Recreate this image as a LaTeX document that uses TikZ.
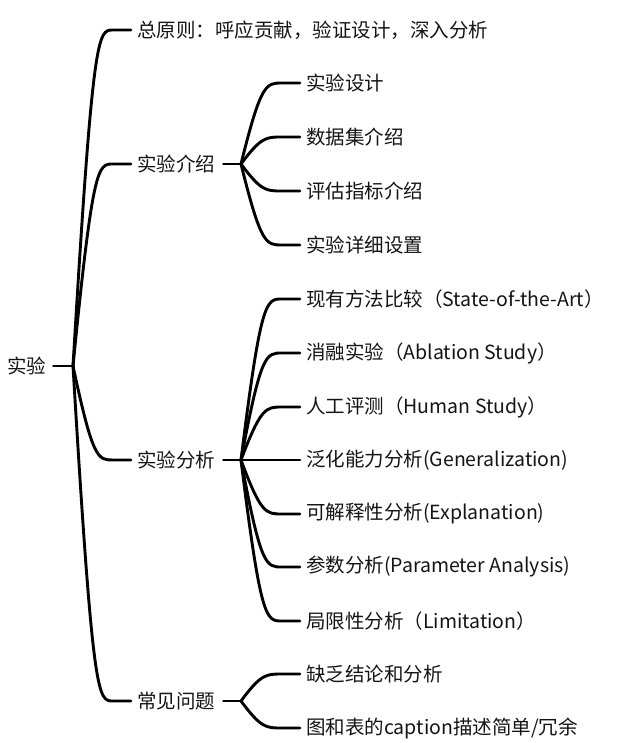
\documentclass[tikz,border=0pt]{standalone}
\usepackage{fontspec}
\setmainfont{Noto Sans CJK SC}
\usetikzlibrary{calc}
\newcommand\brc[2]{\draw[conn] (#1) .. controls ($(#1 |- #2.west)+(20,0)$) and ($(#1 |- #2.west)+(25,0)$) .. ($(#2.west)+(-24,0)$) -- ($(#2.west)+(-6,0)$);}
\begin{document}
\begin{tikzpicture}[x=1pt,y=1pt,
  conn/.style={draw=black,line width=2.9pt,line cap=round},
  lbl/.style={anchor=west,inner sep=0pt,text=black!92,font=\fontsize{19.5}{22}\selectfont}]
\useasboundingbox (0,0) rectangle (620,-743);
% root
\node[lbl] (root) at (7,-366) {实验};
\coordinate (r) at (73,-366);
\draw[conn] ($(root.east)+(7,0)$) -- (r);
% level 1
\node[lbl] (a1) at (137,-30) {总原则：呼应贡献，验证设计，深入分析};
\node[lbl] (a2) at (137,-164) {实验介绍};
\node[lbl] (a3) at (137,-460) {实验分析};
\node[lbl] (a4) at (137,-701) {常见问题};
\brc{r}{a1}\brc{r}{a2}\brc{r}{a3}\brc{r}{a4}
\coordinate (p2) at (241,-164);
\coordinate (p3) at (241,-460);
\coordinate (p4) at (241,-701);
\draw[conn] ($(a2.east)+(8,0)$) -- (p2);
\draw[conn] ($(a3.east)+(8,0)$) -- (p3);
\draw[conn] ($(a4.east)+(8,0)$) -- (p4);
% level 2: 实验介绍
\node[lbl] (b1) at (306,-83) {实验设计};
\node[lbl] (b2) at (306,-137) {数据集介绍};
\node[lbl] (b3) at (306,-191) {评估指标介绍};
\node[lbl] (b4) at (306,-245) {实验详细设置};
\brc{p2}{b1}\brc{p2}{b2}\brc{p2}{b3}\brc{p2}{b4}
% level 2: 实验分析
\node[lbl] (c1) at (306,-299) {现有方法比较（State-of-the-Art）};
\node[lbl] (c2) at (306,-353) {消融实验（Ablation Study）};
\node[lbl] (c3) at (306,-407) {人工评测（Human Study）};
\node[lbl] (c4) at (306,-460) {泛化能力分析(Generalization)};
\node[lbl] (c5) at (306,-514) {可解释性分析(Explanation)};
\node[lbl] (c6) at (306,-567) {参数分析(Parameter Analysis)};
\node[lbl] (c7) at (306,-621) {局限性分析（Limitation）};
\brc{p3}{c1}\brc{p3}{c2}\brc{p3}{c3}\brc{p3}{c4}\brc{p3}{c5}\brc{p3}{c6}\brc{p3}{c7}
% level 2: 常见问题
\node[lbl] (d1) at (306,-674) {缺乏结论和分析};
\node[lbl] (d2) at (306,-728) {图和表的caption描述简单/冗余};
\brc{p4}{d1}\brc{p4}{d2}
\end{tikzpicture}
\end{document}
